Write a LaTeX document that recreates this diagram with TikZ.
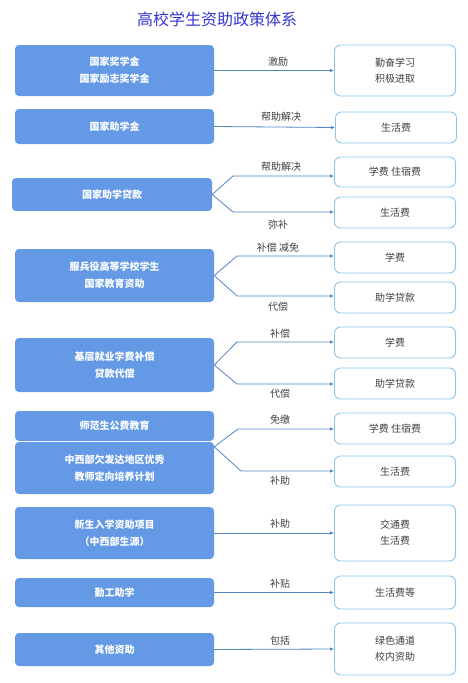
\documentclass[tikz,border=0pt]{standalone}
\usepackage{fontspec}
\newfontfamily\cjk{Noto Sans CJK SC}
\usetikzlibrary{arrows.meta,calc,positioning}
\definecolor{Heading}{HTML}{3535CF}
\definecolor{Fund}{HTML}{6399E5}
\definecolor{Rim}{HTML}{88C6EC}
\definecolor{Link}{HTML}{5384C4}
\definecolor{Ink}{HTML}{404040}
\tikzset{
  linkarrow/.style={-{Latex[length=4pt,width=3.5pt]},line width=0.8pt,draw=Link},
  fundbox/.style={rounded corners=4pt,minimum width=199pt,inner sep=0pt,align=center,
    fill=Fund,draw=none,text=white,font=\cjk\fontsize{10}{17}\selectfont\bfseries},
  usebox/.style={rounded corners=6pt,minimum width=121pt,inner sep=0pt,align=center,
    draw=Rim,line width=0.9pt,fill=white,text=Ink,font=\cjk\fontsize{10}{16}\selectfont},
  tag/.style={text=Ink,inner sep=1pt,font=\cjk\fontsize{10}{12}\selectfont},
}

\begin{document}
\begin{tikzpicture}[x=1pt,y=-1pt]
    \useasboundingbox (0,0) rectangle (468,683);
    \node[text=Heading,font=\cjk\fontsize{16}{19}\selectfont] (title) at (217,19) {高校学生资助政策体系};

    % 奖学金
    \node[fundbox,minimum height=51pt] (f1) at (114.5,70.5) {国家奖学金\\国家励志奖学金};
    \node[usebox,minimum height=51pt] (u1) at (395,70.5) {勤奋学习\\积极进取};
    \draw[linkarrow] (f1.east) -- (u1.west);
    \node[tag] (l1) at (278,62) {激励};

    % 助学金
    \node[fundbox,minimum height=35pt] (f2) at (114.5,126.5) {国家助学金};
    \node[usebox,minimum height=31pt] (u2) at (396,127.5) {生活费};
    \draw[linkarrow] (f2.east) -- (u2.west);
    \node[tag] (l2) at (281,117) {帮助解决};

    % 助学贷款
    \node[fundbox,minimum height=33pt,minimum width=200pt] (f3) at (112,194.5) {国家助学贷款};
    \node[usebox,minimum height=30pt] (u3a) at (395,172) {学费\ 住宿费};
    \node[usebox,minimum height=31pt] (u3b) at (395,212.5) {生活费};
    \coordinate (k3a) at (233,176);
    \coordinate (k3b) at (233,212);
    \draw[linkarrow] (f3.east) -- (k3a) -- (k3a -| u3a.west);
    \draw[linkarrow] (f3.east) -- (k3b) -- (k3b -| u3b.west);
    \node[tag] (l3a) at (281,167) {帮助解决};
    \node[tag] (l3b) at (278,225) {弥补};

    % 服兵役
    \node[fundbox,minimum height=53pt] (f4) at (114.5,275.5) {服兵役高等学校学生\\国家教育资助};
    \node[usebox,minimum height=31pt] (u4a) at (395,257.5) {学费};
    \node[usebox,minimum height=31pt] (u4b) at (395,297.5) {助学贷款};
    \coordinate (k4a) at (237,256);
    \coordinate (k4b) at (237,296);
    \draw[linkarrow] (f4.east) -- (k4a) -- (k4a -| u4a.west);
    \draw[linkarrow] (f4.east) -- (k4b) -- (k4b -| u4b.west);
    \node[tag] (l4a) at (278,248) {补偿\ 减免};
    \node[tag] (l4b) at (278,307) {代偿};

    % 基层就业
    \node[fundbox,minimum height=54pt] (f5) at (114.5,365) {基层就业学费补偿\\贷款代偿};
    \node[usebox,minimum height=31pt] (u5a) at (395,342.5) {学费};
    \node[usebox,minimum height=31pt] (u5b) at (395,383.5) {助学贷款};
    \coordinate (k5a) at (237,342);
    \coordinate (k5b) at (237,384);
    \draw[linkarrow] (f5.east) -- (k5a) -- (k5a -| u5a.west);
    \draw[linkarrow] (f5.east) -- (k5b) -- (k5b -| u5b.west);
    \node[tag] (l5a) at (280,334) {补偿};
    \node[tag] (l5b) at (280,394) {代偿};

    % 师范生
    \node[fundbox,minimum height=30pt] (f6a) at (114.5,426) {师范生公费教育};
    \node[fundbox,minimum height=52pt] (f6b) at (114.5,468) {中西部欠发达地区优秀\\教师定向培养计划};
    \node[usebox,minimum height=31pt] (u6a) at (395,428.5) {学费\ 住宿费};
    \node[usebox,minimum height=31pt] (u6b) at (395,471.5) {生活费};
    \coordinate (k6) at ($(f6b.north east)+(0,5)$);
    \coordinate (k6a) at (238,429);
    \coordinate (k6b) at (241,471);
    \draw[linkarrow] (k6) -- (k6a) -- (k6a -| u6a.west);
    \draw[linkarrow] (k6) -- (k6b) -- (k6b -| u6b.west);
    \node[tag] (l6a) at (280,420) {免缴};
    \node[tag] (l6b) at (280,481) {补助};

    % 新生入学
    \node[fundbox,minimum height=52pt] (f7) at (114.5,533) {新生入学资助项目\\（中西部生源）};
    \node[usebox,minimum height=56pt] (u7) at (395,533) {交通费\\生活费};
    \draw[linkarrow] (f7.east) -- (u7.west);
    \node[tag] (l7) at (280,524) {补助};

    % 勤工助学
    \node[fundbox,minimum height=29pt] (f8) at (114.5,592.5) {勤工助学};
    \node[usebox,minimum height=33pt] (u8) at (395,592.5) {生活费等};
    \draw[linkarrow] (f8.east) -- (u8.west);
    \node[tag] (l8) at (280,584) {补贴};

    % 其他
    \node[fundbox,minimum height=33pt] (f9) at (114.5,649.5) {其他资助};
    \node[usebox,minimum height=52pt] (u9) at (395,649) {绿色通道\\校内资助};
    \draw[linkarrow] (f9.east) -- (u9.west);
    \node[tag] (l9) at (280,641) {包括};
\end{tikzpicture}
\end{document}
